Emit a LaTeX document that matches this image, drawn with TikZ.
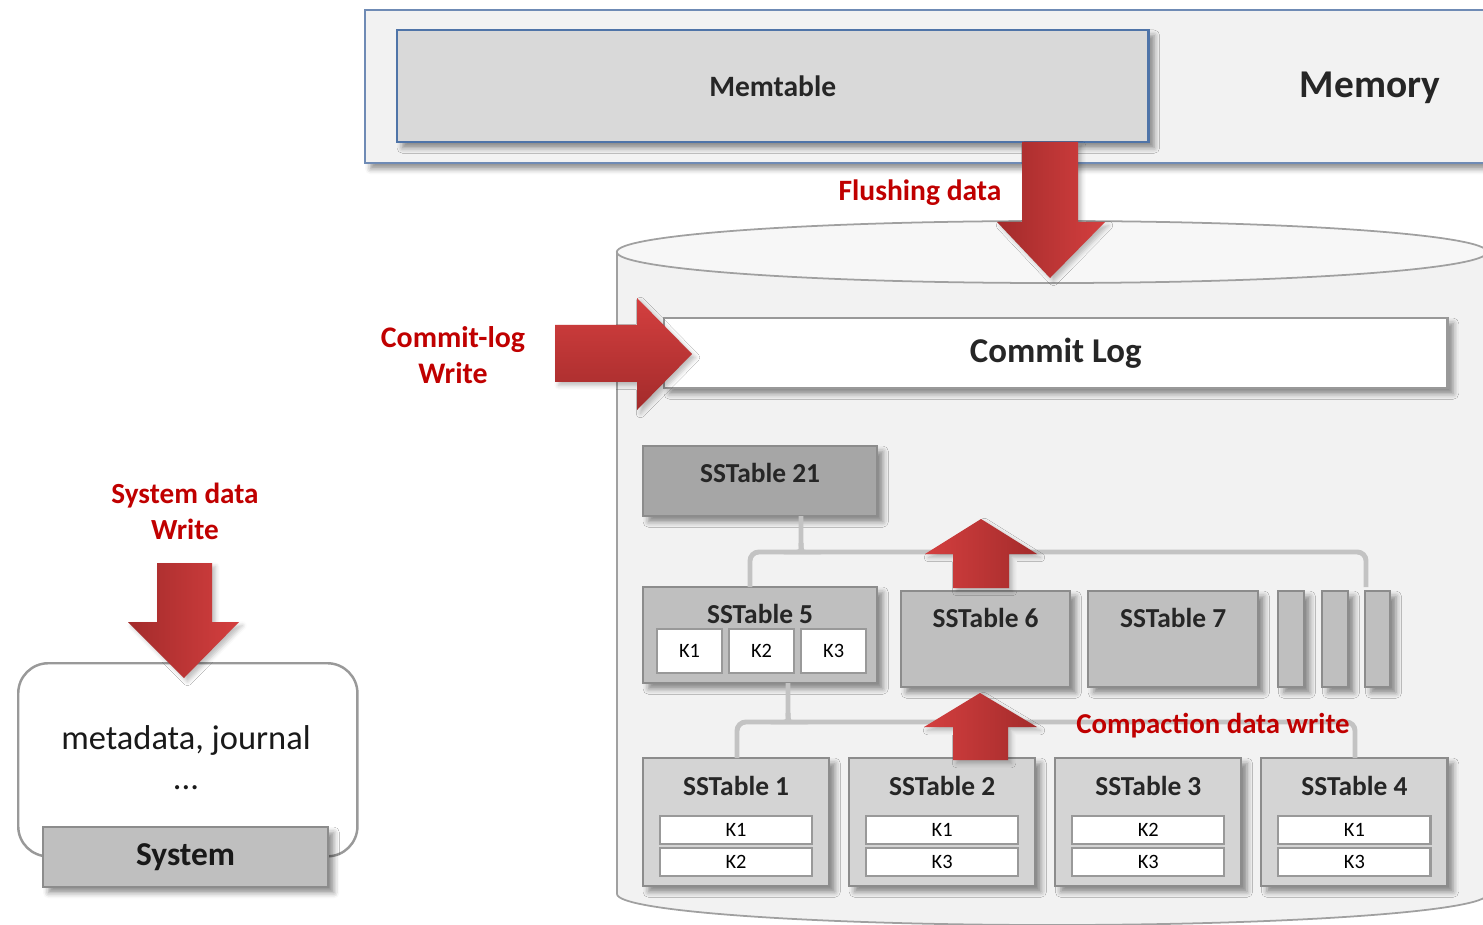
\documentclass[tikz,border=0pt]{standalone}
\usepackage{fontspec}
\setmainfont{Carlito}
\usetikzlibrary{positioning,calc,shadows.blur}

\definecolor{redtxt}{HTML}{C00000}
\definecolor{arrdark}{HTML}{A32B2B}
\definecolor{arrlight}{HTML}{D43F3F}
\definecolor{memline}{HTML}{6F8BB5}
\definecolor{memtableline}{HTML}{4F74A8}
\definecolor{boxline}{HTML}{8C8C8C}
\definecolor{diskline}{HTML}{A0A0A0}
\definecolor{bracketgray}{HTML}{C3C3C3}

\begin{document}
\begin{tikzpicture}
  [x=0.01cm, y=-0.01cm,
    softshadow/.style={blur shadow={shadow xshift=1.6pt, shadow yshift=-1.6pt,
        shadow blur radius=1.6pt, shadow opacity=45}},
    plainbox/.style={rectangle, draw=boxline, line width=0.6pt, inner sep=0pt, outer sep=0pt},
    box/.style={plainbox, softshadow},
    sstdark/.style={box, fill=black!35, minimum height=0.70cm},
    sstmid/.style={box, fill=black!25, minimum height=0.96cm},
    sstlow/.style={box, fill=black!17, minimum width=1.86cm, minimum height=1.28cm},
    keybox/.style={plainbox, draw=black!40, fill=white,
        minimum width=0.65cm, minimum height=0.44cm, font=\fontsize{5.8}{7}\selectfont},
    keyrow/.style={keybox, minimum width=1.52cm, minimum height=0.28cm},
    title/.style={inner sep=0pt, text=black!85, font=\fontsize{7.8}{9}\selectfont\bfseries},
    redlabel/.style={inner sep=0pt, align=center, text=redtxt,
        font=\fontsize{8.4}{10.2}\selectfont\bfseries},
    redarrow/.style={draw=none, blur shadow={shadow xshift=1pt, shadow yshift=-1pt,
        shadow blur radius=1.2pt, shadow opacity=25}},
    bracket/.style={draw=bracketgray, line width=1.4pt, rounded corners=2.5pt},
  ]

  \useasboundingbox (0,0) rectangle (1483,925);

  % memory
  \node[box, draw=memline, fill=black!5, anchor=north west,
    minimum width=11.3cm, minimum height=1.53cm] (memory) at (365,10) {};
  \node[box, draw=memtableline, fill=black!15, anchor=north west,
    minimum width=7.51cm, minimum height=1.12cm, text=black!85,
    font=\fontsize{8.4}{10}\selectfont\bfseries] (memtable) at (397,30) {Memtable};
  \node[title, font=\fontsize{11.2}{13}\selectfont\bfseries] (memlabel) at (1370,88) {Memory};

  % disk
  \fill[black!5] (617,252) -- (617,894)
    arc[start angle=180, end angle=360, x radius=4.35cm, y radius=0.31cm]
    -- (1487,252)
    arc[start angle=0, end angle=180, x radius=4.35cm, y radius=0.31cm] -- cycle;
  \draw[diskline, line width=0.5pt] (617,252) -- (617,894)
    arc[start angle=180, end angle=360, x radius=4.35cm, y radius=0.31cm];
  \filldraw[fill=black!3, draw=diskline, line width=0.5pt]
    (1052,252) ellipse[x radius=4.35cm, y radius=0.31cm];

  \node[box, draw=black!40, fill=white, anchor=north west,
    minimum width=7.83cm, minimum height=0.70cm, text=black!85,
    font=\fontsize{9.9}{12}\selectfont\bfseries] (commitlog) at (664,318) {Commit Log};

  % sstables
  \node[sstdark, anchor=north west, minimum width=2.34cm] (sst21) at (643,446) {};
  \node[sstmid, anchor=north west, minimum width=2.34cm] (sst5) at (643,587) {};
  \node[sstmid, anchor=north west, minimum width=1.69cm] (sst6) at (901,591) {};
  \node[sstmid, minimum width=1.70cm, right=0.18cm of sst6] (sst7) {};
  \node[sstmid, minimum width=0.26cm, right=0.20cm of sst7] (bar1) {};
  \node[sstmid, minimum width=0.26cm, right=0.18cm of bar1] (bar2) {};
  \node[sstmid, minimum width=0.25cm, right=0.17cm of bar2] (bar3) {};

  \node[sstlow, anchor=north west] (sst1) at (643,758) {};
  \node[sstlow, right=0.20cm of sst1] (sst2) {};
  \node[sstlow, right=0.20cm of sst2] (sst3) {};
  \node[sstlow, right=0.20cm of sst3] (sst4) {};

  \node[title] (sst21t) at ($(sst21.north)+(0,27)$) {SSTable 21};
  \node[title] (sst5t) at ($(sst5.north)+(0,27)$) {SSTable 5};
  \node[title] (sst6t) at ($(sst6.north)+(0,27)$) {SSTable 6};
  \node[title] (sst7t) at ($(sst7.north)+(0,27)$) {SSTable 7};
  \node[title] (sst1t) at ($(sst1.north)+(0,28)$) {SSTable 1};
  \node[title] (sst2t) at ($(sst2.north)+(0,28)$) {SSTable 2};
  \node[title] (sst3t) at ($(sst3.north)+(0,28)$) {SSTable 3};
  \node[title] (sst4t) at ($(sst4.north)+(0,28)$) {SSTable 4};

  % keys
  \node[keybox, anchor=north west] (sst5k1) at (657,629) {K1};
  \node[keybox, right=0.07cm of sst5k1] (sst5k2) {K2};
  \node[keybox, right=0.07cm of sst5k2] (sst5k3) {K3};

  \node[keyrow, anchor=south] (sst1k2) at ($(sst1.south)+(0,-10)$) {K2};
  \node[keyrow, above=0.04cm of sst1k2] (sst1k1) {K1};
  \node[keyrow, anchor=south] (sst2k2) at ($(sst2.south)+(0,-10)$) {K3};
  \node[keyrow, above=0.04cm of sst2k2] (sst2k1) {K1};
  \node[keyrow, anchor=south] (sst3k2) at ($(sst3.south)+(0,-10)$) {K3};
  \node[keyrow, above=0.04cm of sst3k2] (sst3k1) {K2};
  \node[keyrow, anchor=south] (sst4k2) at ($(sst4.south)+(0,-10)$) {K3};
  \node[keyrow, above=0.04cm of sst4k2] (sst4k1) {K1};

  % compaction brackets
  \draw[bracket] (sst5.north -| 750,0) -- (750,552) -- (795,552)
    to[out=0, in=-90] (801,543) -- (sst21.south -| 801,0);
  \draw[bracket] (801,543) to[out=-90, in=180] (807,552) -- (1366,552) -- (1366,587);
  \draw[bracket] (sst1.north -| 737,0) -- (737,722) -- (782,722)
    to[out=0, in=-90] (788,713) -- (sst5.south -| 788,0);
  \draw[bracket] (788,713) to[out=-90, in=180] (794,722) -- (1355,722) -- (sst4.north -| 1355,0);

  % red arrows
  \shade[redarrow, left color=arrdark, right color=arrlight]
    (1022,142) -- (1078,142) -- (1078,222) -- (1105,222) -- (1050,278)
    -- (997,222) -- (1022,222) -- cycle;
  \shade[redarrow, top color=arrlight, bottom color=arrdark]
    (555,325) -- (637,325) -- (637,298) -- (692,354) -- (637,410)
    -- (637,382) -- (555,382) -- cycle;
  \shade[redarrow, left color=arrlight, right color=arrdark]
    (953,588) -- (953,554) -- (925,554) -- (981,519) -- (1037,554)
    -- (1009,554) -- (1009,588) -- cycle;
  \shade[redarrow, left color=arrlight, right color=arrdark]
    (953,760) -- (953,727) -- (924,727) -- (980,693) -- (1037,727)
    -- (1008,727) -- (1008,760) -- cycle;

  \node[redlabel] (flushlabel) at (920,193) {Flushing data};
  \node[redlabel, font=\fontsize{8.5}{10.2}\selectfont\bfseries] (commitlabel) at (453,355) {Commit-log\\Write};
  \node[redlabel, font=\fontsize{8.2}{9}\selectfont\bfseries] (compactlabel) at (1213,726) {Compaction data write};

  % system
  \node[rectangle, draw=black!40, line width=0.7pt, fill=white, rounded corners=0.3cm,
    anchor=north west, minimum width=3.39cm, minimum height=1.93cm] (sysstore) at (17,662) {};
  \node[inner sep=0pt, text=black!90, font=\fontsize{9.8}{12}\selectfont] (sysmeta) at (186,740) {metadata, journal};
  \node[inner sep=0pt, text=black!90, font=\fontsize{9.8}{12}\selectfont] (sysdots) at (186,788) {...};
  \node[box, fill=black!25, anchor=north west, minimum width=2.85cm, minimum height=0.60cm,
    text=black!90, font=\fontsize{9.5}{11}\selectfont\bfseries] (system) at (43,827) {System};

  \shade[redarrow, left color=arrdark, right color=arrlight]
    (157,563) -- (212,563) -- (212,622) -- (239,622) -- (184,678)
    -- (128,622) -- (157,622) -- cycle;
  \node[redlabel, font=\fontsize{8.3}{10.2}\selectfont\bfseries] (syslabel) at (185,511) {System data\\Write};
\end{tikzpicture}
\end{document}
